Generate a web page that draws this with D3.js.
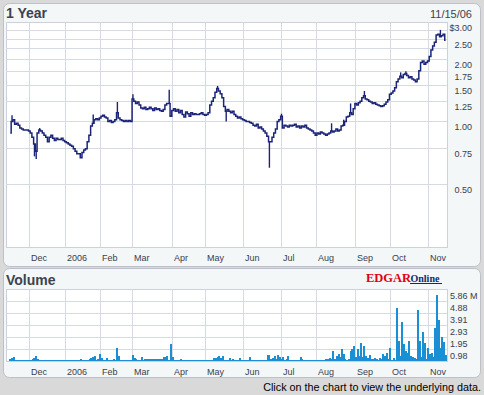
<!DOCTYPE html>
<meta charset="utf-8">
<style>
body { margin: 0; background: #d9d9d9; }
svg { display: block; font-family: "Liberation Sans", Arial, sans-serif; }
.grid line { stroke: #d6dbe3; shape-rendering: crispEdges; }
.lbl { fill: #39404d; font-size: 9px; }
</style>
<body>
<script src="https://d3js.org/d3.v7.min.js"></script>
<script>

var width = 484, height = 395;

// trading calendar
var startDate = "2005-11-15", endDate = "2006-11-15";
var holidays = ["2005-11-24", "2005-12-26", "2006-01-02", "2006-01-16", "2006-02-20",
                "2006-04-14", "2006-05-29", "2006-07-04", "2006-09-04"];

// daily closes ($), one per trading day
var closes = [
  0.88, 1.00, 1.02, 0.97, 0.98, 0.96, 0.93, 0.92, 0.91, 0.91,
  0.91, 0.90, 0.88, 0.84, 0.78, 0.72, 0.88, 0.91, 0.90, 0.88,
  0.86, 0.84, 0.80, 0.84, 0.86, 0.83, 0.81, 0.83, 0.82, 0.82,
  0.83, 0.81, 0.80, 0.79, 0.78, 0.77, 0.76, 0.74, 0.72, 0.70,
  0.70, 0.67, 0.71, 0.73, 0.74, 0.80, 0.86, 0.95, 0.98, 1.02,
  1.03, 1.02, 1.04, 1.06, 1.07, 1.05, 1.04, 1.00, 1.01, 0.99,
  1.00, 1.02, 1.10, 1.04, 1.02, 1.01, 1.00, 1.01, 1.00, 1.01,
  1.00, 1.28, 1.25, 1.22, 1.24, 1.20, 1.16, 1.15, 1.17, 1.14,
  1.15, 1.17, 1.15, 1.13, 1.16, 1.14, 1.15, 1.13, 1.12, 1.14,
  1.20, 1.22, 1.22, 1.06, 1.13, 1.15, 1.12, 1.14, 1.10, 1.13,
  1.08, 1.05, 1.11, 1.09, 1.06, 1.10, 1.08, 1.09, 1.08, 1.08,
  1.09, 1.10, 1.08, 1.07, 1.08, 1.10, 1.20, 1.25, 1.30, 1.38,
  1.44, 1.40, 1.36, 1.30, 1.18, 1.12, 1.14, 1.12, 1.10, 1.12,
  1.08, 1.06, 1.04, 1.05, 1.03, 1.02, 1.01, 1.00, 1.00, 0.99,
  0.98, 0.96, 0.95, 0.97, 0.93, 0.94, 0.92, 0.90, 0.88, 0.85,
  0.80, 0.80, 0.84, 0.88, 0.92, 1.00, 1.02, 1.06, 0.93, 0.96,
  0.95, 0.94, 0.96, 0.95, 0.96, 0.97, 0.94, 0.95, 0.93, 0.95,
  0.94, 0.96, 0.93, 0.92, 0.91, 0.90, 0.88, 0.86, 0.88, 0.87,
  0.89, 0.88, 0.87, 0.86, 0.87, 0.88, 0.90, 0.89, 0.90, 0.92,
  0.90, 0.91, 0.95, 0.96, 1.00, 1.05, 1.06, 1.10, 1.08, 1.15,
  1.22, 1.20, 1.23, 1.25, 1.30, 1.33, 1.28, 1.27, 1.25, 1.24,
  1.22, 1.23, 1.21, 1.20, 1.19, 1.18, 1.19, 1.21, 1.24, 1.27,
  1.35, 1.37, 1.40, 1.45, 1.55, 1.60, 1.65, 1.62, 1.68, 1.70,
  1.66, 1.62, 1.64, 1.60, 1.58, 1.55, 1.60, 1.75, 1.92, 1.95,
  1.88, 1.92, 1.95, 2.05, 2.20, 2.30, 2.40, 2.60, 2.62, 2.55,
  2.58, 2.62, 2.45
];

// intraday extremes that stick out of the close line: [day, price]
var spikes = [
  [1, 1.07], [14, 0.68], [15, 0.66], [17, 0.93], [48, 1.08], [62, 1.24],
  [71, 1.35], [92, 1.42], [120, 1.48], [125, 1.00], [150, 0.60], [157, 1.09],
  [186, 0.98], [193, 1.02], [197, 1.22], [205, 1.40], [226, 1.72], [229, 1.74],
  [249, 2.75]
];

// daily volume (millions)
var volumes = [
  0.15, 0.27, 0.33, 0.10, 0.08, 0.06, 0.08, 0.05, 0.07, 0.06,
  0.09, 0.12, 0.08, 0.20, 0.28, 0.38, 0.15, 0.08, 0.06, 0.07,
  0.05, 0.08, 0.06, 0.07, 0.05, 0.06, 0.08, 0.05, 0.07, 0.06,
  0.05, 0.07, 0.06, 0.08, 0.05, 0.06, 0.07, 0.05, 0.08, 0.06,
  0.07, 0.14, 0.06, 0.08, 0.10, 0.10, 0.14, 0.27, 0.35, 0.40,
  0.12, 0.16, 0.54, 0.27, 0.10, 0.08, 0.27, 0.06, 0.08, 0.10,
  0.20, 0.12, 1.03, 0.40, 0.12, 0.08, 0.10, 0.08, 0.06, 0.08,
  0.10, 0.49, 0.22, 0.20, 0.10, 0.08, 0.35, 0.12, 0.14, 0.16,
  0.18, 0.14, 0.16, 0.15, 0.18, 0.14, 0.20, 0.16, 0.18, 0.33,
  0.36, 0.40, 0.12, 1.36, 0.30, 0.10, 0.08, 0.06, 0.08, 0.16,
  0.10, 0.08, 0.06, 0.08, 0.10, 0.07, 0.06, 0.08, 0.05, 0.07,
  0.06, 0.08, 0.07, 0.05, 0.06, 0.08, 0.07, 0.06, 0.27, 0.27,
  0.33, 0.40, 0.27, 0.38, 0.12, 0.10, 0.08, 0.22, 0.10, 0.16,
  0.08, 0.06, 0.10, 0.22, 0.08, 0.06, 0.10, 0.08, 0.08, 0.33,
  0.12, 0.06, 0.08, 0.10, 0.05, 0.08, 0.07, 0.10, 0.12, 0.50,
  0.45, 0.20, 0.27, 0.40, 0.15, 0.49, 0.30, 0.20, 0.33, 0.10,
  0.14, 0.40, 0.10, 0.06, 0.10, 0.08, 0.12, 0.08, 0.33, 0.15,
  0.10, 0.08, 0.12, 0.08, 0.06, 0.10, 0.08, 0.05, 0.10, 0.08,
  0.12, 0.08, 0.10, 0.20, 0.14, 0.27, 0.20, 0.81, 0.20, 0.40,
  0.60, 0.30, 0.95, 0.54, 0.15, 0.10, 0.20, 0.81, 0.95, 1.22,
  0.30, 0.95, 0.40, 1.49, 0.35, 1.22, 0.40, 0.27, 0.49, 0.20,
  0.14, 0.22, 0.20, 0.12, 0.22, 0.14, 0.54, 0.40, 0.68, 0.20,
  1.03, 0.10, 0.27, 0.10, 4.34, 1.60, 0.40, 3.20, 1.36, 0.81,
  0.68, 1.60, 0.40, 0.33, 0.27, 0.15, 4.12, 1.60, 0.30, 2.38,
  1.49, 0.20, 1.08, 0.54, 0.68, 0.30, 2.71, 5.34, 3.31, 1.08,
  1.95, 1.57, 0.50
];

var priceTicks = [3.00, 2.50, 2.00, 1.75, 1.50, 1.25, 1.00, 0.75, 0.50];
var priceGrid = [2.75, 2.50, 2.25, 2.00, 1.75, 1.50, 1.25, 1.00, 0.75, 0.50];
var volTicks = [0.98, 1.95, 2.93, 3.91, 4.88, 5.86];

var parse = d3.timeParse("%Y-%m-%d"), fmt = d3.timeFormat("%Y-%m-%d");
var days = d3.timeDay.range(parse(startDate), d3.timeDay.offset(parse(endDate), 1))
  .filter(function(d) {
    var w = d.getDay();
    return w > 0 && w < 6 && holidays.indexOf(fmt(d)) < 0;
  });

var monthStarts = [];
days.forEach(function(d, i) {
  if (i > 0 && d.getMonth() != days[i - 1].getMonth()) monthStarts.push(i);
});
function monthLabel(i) {
  var d = days[i];
  return d.getMonth() == 0 ? d3.timeFormat("%Y")(d) : d3.timeFormat("%b")(d);
}

var plotL = 6, plotR = 447;
var price = {top: 22, bottom: 247};
var vol = {top: 289, bottom: 361};

var x = d3.scaleLinear().domain([0, days.length - 1]).range([10.3, 445.6]);
var y = d3.scaleLog().domain([0.25, 3]).range([price.bottom, price.top]);
var vy = d3.scaleLinear().domain([0, 5.86]).range([vol.bottom, vol.top]);

var svg = d3.select("body").append("svg")
    .attr("width", width)
    .attr("height", height);

// panels
svg.append("rect").attr("x", 3.5).attr("y", 3.5).attr("width", 477).attr("height", 263)
    .attr("rx", 6).attr("fill", "#f3f7f7").attr("stroke", "#bcc1c7");
svg.append("rect").attr("x", 3.5).attr("y", 268.5).attr("width", 477).attr("height", 109)
    .attr("rx", 6).attr("fill", "#f3f7f7").attr("stroke", "#bcc1c7");

function frame(box) {
  svg.append("rect").attr("x", plotL + 0.5).attr("y", box.top + 0.5)
      .attr("width", plotR - plotL).attr("height", box.bottom - box.top)
      .attr("fill", "#fff").attr("stroke", "#cdd2da")
      .attr("shape-rendering", "crispEdges");
  var g = svg.append("g").attr("class", "grid");
  g.selectAll("line.v").data(monthStarts).enter().append("line")
      .attr("class", "v")
      .attr("x1", function(d) { return Math.floor(x(d)) + 0.5; })
      .attr("x2", function(d) { return Math.floor(x(d)) + 0.5; })
      .attr("y1", box.top).attr("y2", box.bottom);
  svg.append("g").selectAll("text").data(monthStarts).enter().append("text")
      .attr("class", "lbl")
      .attr("x", function(d) { return Math.floor(x(d)) + 2; })
      .attr("y", box.bottom + 13.5)
      .text(monthLabel);
  return g;
}

// price chart
var pg = frame(price);
pg.selectAll("line.h").data(priceGrid).enter().append("line")
    .attr("class", "h")
    .attr("x1", plotL).attr("x2", plotR)
    .attr("y1", function(d) { return Math.round(y(d)) + 0.5; })
    .attr("y2", function(d) { return Math.round(y(d)) + 0.5; });

svg.append("g").selectAll("text").data(priceTicks).enter().append("text")
    .attr("class", "lbl")
    .attr("x", 472)
    .attr("y", function(d) { return Math.round(y(d)) + 9; })
    .attr("text-anchor", "end")
    .text(function(d, i) { return (i == 0 ? "$" : "") + d.toFixed(2); });

var line = d3.line()
    .x(function(d, i) { return x(i); })
    .y(function(d) { return y(d); })
    .curve(d3.curveStep);

svg.append("g").selectAll("line").data(spikes).enter().append("line")
    .attr("x1", function(d) { return x(d[0]); })
    .attr("x2", function(d) { return x(d[0]); })
    .attr("y1", function(d) { return y(closes[d[0]]); })
    .attr("y2", function(d) { return y(d[1]); })
    .attr("stroke", "#1b2476").attr("stroke-width", 1.4);

svg.append("path").datum(closes)
    .attr("d", line)
    .attr("fill", "none")
    .attr("stroke", "#1b2476")
    .attr("stroke-width", 1.5);

// volume chart
var vg = frame(vol);
vg.selectAll("line.h").data(volTicks.slice(0, 5)).enter().append("line")
    .attr("class", "h")
    .attr("x1", plotL).attr("x2", plotR)
    .attr("y1", function(d) { return Math.round(vy(d)) + 0.5; })
    .attr("y2", function(d) { return Math.round(vy(d)) + 0.5; });

svg.append("g").selectAll("text").data(volTicks.slice().reverse()).enter().append("text")
    .attr("class", "lbl")
    .attr("x", 450)
    .attr("y", function(d) { return Math.round(vy(d)) + 9.5; })
    .text(function(d, i) { return d.toFixed(2) + (i == 0 ? " M" : ""); });

svg.append("g").selectAll("rect").data(volumes).enter().append("rect")
    .attr("x", function(d, i) { return Math.round(x(i)) - 1; })
    .attr("width", 2)
    .attr("y", function(d) { return Math.min(vy(d), vol.bottom - 1); })
    .attr("height", function(d) { return Math.max(vol.bottom - vy(d), 1); })
    .attr("fill", "#1a8fd3")
    .attr("shape-rendering", "crispEdges");

// titles
svg.append("text").attr("x", 6).attr("y", 17.5)
    .attr("font-size", 14).attr("font-weight", "bold").attr("fill", "#3c4350")
    .text("1 Year");
svg.append("text").attr("x", 472).attr("y", 17.5).attr("text-anchor", "end")
    .attr("font-size", 11).attr("fill", "#3c4350")
    .text("11/15/06");
svg.append("text").attr("x", 6).attr("y", 285)
    .attr("font-size", 14).attr("font-weight", "bold").attr("fill", "#3c4350")
    .text("Volume");

// logo
var logo = svg.append("g").attr("font-family", "'Liberation Serif', 'Times New Roman', serif")
    .attr("font-weight", "bold");
logo.append("text").attr("x", 366).attr("y", 282).attr("font-size", 12.5)
    .attr("fill", "#e3000f").text("EDGAR");
logo.append("text").attr("x", 410.5).attr("y", 282).attr("font-size", 10)
    .attr("fill", "#0c2c6a").text("Online");
logo.append("line").attr("x1", 410).attr("x2", 442).attr("y1", 283.5).attr("y2", 283.5)
    .attr("stroke", "#0c2c6a");

svg.append("text").attr("x", 481).attr("y", 391).attr("text-anchor", "end")
    .attr("font-size", 10.8).attr("fill", "#000")
    .text("Click on the chart to view the underlying data.");

</script>
</body>
